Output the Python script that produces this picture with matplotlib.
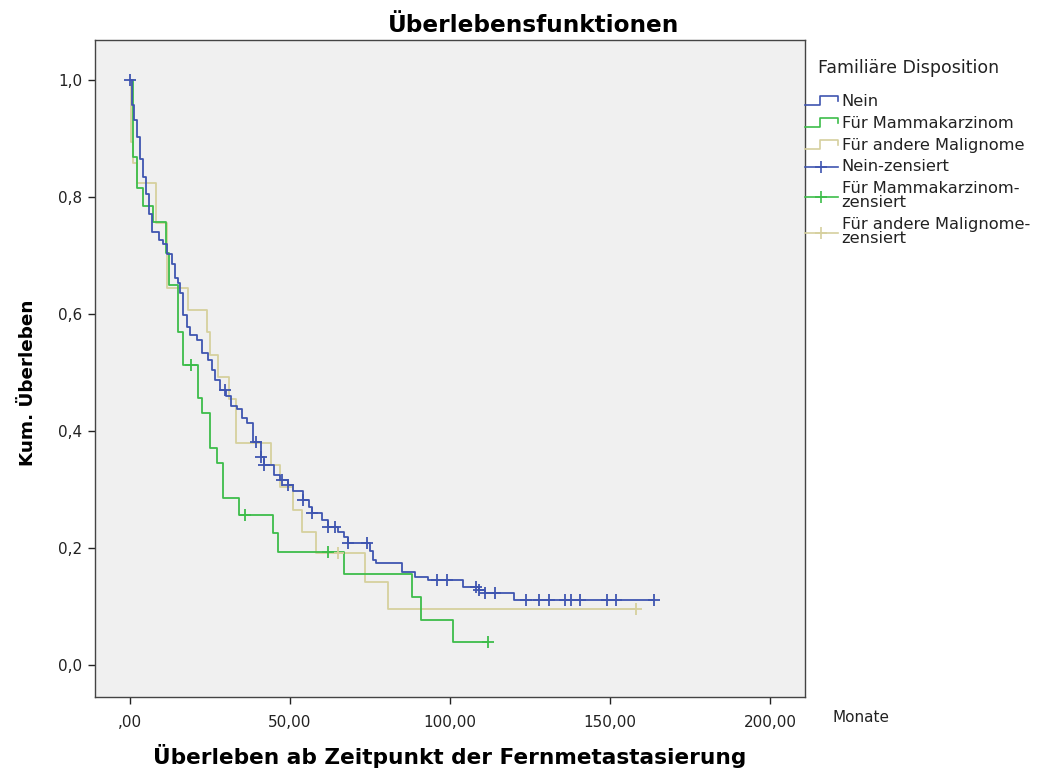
import numpy as np
import matplotlib
matplotlib.use("Agg")
import matplotlib.pyplot as plt
from matplotlib.lines import Line2D
from matplotlib.legend_handler import HandlerBase

plt.rcParams['font.family'] = ['DejaVu Sans']

# ---------------- data ----------------
blue_t = [0, 0.6, 1.25, 2.1, 3.1, 4.1, 5.0, 5.9, 6.9, 9.1, 10.3, 11.6, 13.1, 14.1, 15.0, 15.6,
          16.6, 17.8, 18.8, 20.9, 22.5, 24.4, 25.6, 26.6, 28.1, 30.0, 31.6, 33.4, 35.0, 36.6,
          38.4, 41, 42, 45, 47, 49.5, 51, 54, 56, 57, 60, 62, 65, 67, 68, 75, 76, 77, 85, 89,
          93, 104, 109, 111, 120]
blue_s = [1.0, 0.957, 0.932, 0.903, 0.865, 0.834, 0.805, 0.771, 0.740, 0.726, 0.720, 0.703,
          0.685, 0.662, 0.653, 0.636, 0.598, 0.578, 0.564, 0.556, 0.533, 0.521, 0.504, 0.487,
          0.470, 0.459, 0.442, 0.437, 0.422, 0.414, 0.381, 0.355, 0.342, 0.325, 0.316, 0.308,
          0.298, 0.282, 0.270, 0.260, 0.248, 0.236, 0.228, 0.219, 0.209, 0.195, 0.180, 0.174,
          0.159, 0.150, 0.145, 0.133, 0.128, 0.123, 0.111]
blue_cens = [0, 29.7, 39.5, 41, 42, 47.5, 49.5, 54, 57, 62, 64, 68, 74, 96, 99, 108, 109,
             111, 114, 123.8, 127.8, 130.9, 135.9, 137.8, 140.6, 149, 151.9, 163.8]

green_t = [0, 0.9, 2.2, 4.1, 7.2, 11.3, 12.2, 15.0, 16.6, 21.3, 22.5, 25.0, 27.2, 29.1, 34.1,
           44.7, 46.3, 66.9, 88.1, 91.0, 101.0]
green_s = [1.0, 0.868, 0.815, 0.785, 0.757, 0.704, 0.650, 0.569, 0.513, 0.456, 0.431, 0.371,
           0.345, 0.285, 0.256, 0.226, 0.193, 0.155, 0.116, 0.077, 0.039]
green_cens = [19, 36, 62, 112]

yellow_t = [0, 0.2, 1.0, 2.2, 8.1, 11.5, 18.1, 24.1, 25.0, 27.5, 31.0, 33.1, 44.1, 46.9, 50.9,
            53.8, 58.1, 73.4, 80.6]
yellow_s = [1.0, 0.894, 0.858, 0.824, 0.756, 0.644, 0.607, 0.569, 0.530, 0.492, 0.455, 0.379,
            0.342, 0.304, 0.265, 0.227, 0.191, 0.142, 0.096]
yellow_cens = [65, 158]

labels = ["Nein", "Für Mammakarzinom", "Für andere Malignome"]
cens_labels = ["Nein-zensiert", "Für Mammakarzinom-\nzensiert", "Für andere Malignome-\nzensiert"]
x_ticks = [0, 50, 100, 150, 200]
x_ticklabels = [",00", "50,00", "100,00", "150,00", "200,00"]
y_ticks = [0.0, 0.2, 0.4, 0.6, 0.8, 1.0]
y_ticklabels = ["0,0", "0,2", "0,4", "0,6", "0,8", "1,0"]

colors = ["#3f55b0", "#3dbd4a", "#d6d09e"]

# ---------------- figure ----------------
W, H = 1038, 769
fig = plt.figure(figsize=(W/100, H/100), dpi=100)
fig.patch.set_facecolor("white")
ax = fig.add_axes([95/W, 1-697/H, (805-95)/W, (697-40)/H])
ax.set_facecolor("#f0f0f0")

series = [(blue_t, blue_s, blue_cens), (green_t, green_s, green_cens), (yellow_t, yellow_s, yellow_cens)]
for i in [2, 1, 0]:
    t, s, c = series[i]
    t = np.asarray(t, float); s = np.asarray(s, float); c = np.asarray(c, float)
    tend = max(t[-1], c.max())
    tt = np.append(t, tend); ss = np.append(s, s[-1])
    ax.step(tt, ss, where="post", color=colors[i], lw=1.3, zorder=3 + (2 - i))
    idx = np.searchsorted(t, c, side="right") - 1
    ax.plot(c, s[idx], linestyle="none", marker="+", markersize=8, mew=1.3,
            color=colors[i], zorder=6 + (2 - i))

ax.set_xlim(-10.9, 210.9)
ax.set_ylim(-0.0547, 1.068)
ax.set_xticks(x_ticks)
ax.set_xticklabels(x_ticklabels)
ax.set_yticks(y_ticks)
ax.set_yticklabels(y_ticklabels)
ax.tick_params(axis="both", direction="out", length=5, width=1, colors="#222222",
               labelsize=11, labelcolor="#222222", pad=4)
ax.tick_params(axis="x", pad=8)
for side in ["left", "bottom", "top", "right"]:
    ax.spines[side].set_color("#444444")
    ax.spines[side].set_linewidth(1.0)

fig.text(533/W, 1-25/H, "Überlebensfunktionen", fontsize=16.7, fontweight="bold",
         ha="center", va="center")
fig.text(28/W, 1-383/H, "Kum. Überleben", fontsize=13.2, fontweight="bold",
         ha="center", va="center", rotation=90)
fig.text(450/W, 1-756/H, "Überleben ab Zeitpunkt der Fernmetastasierung", fontsize=15.6,
         fontweight="bold", ha="center", va="center")
fig.text(832/W, 1-718/H, "Monate", fontsize=11, va="center", ha="left", color="#222222")

# ---------------- legend ----------------
class StepHandler(HandlerBase):
    def create_artists(self, legend, orig_handle, xdescent, ydescent, width, height, fontsize, trans):
        x0 = -xdescent; y0 = -ydescent
        xs = [x0, x0 + 0.45*width, x0 + 0.45*width, x0 + width, x0 + width]
        ys = [y0 + 0.1*height, y0 + 0.1*height, y0 + 0.85*height, y0 + 0.85*height, y0 + 0.4*height]
        return [Line2D(xs, ys, color=orig_handle.get_color(), lw=1.2, transform=trans)]

class CensHandler(HandlerBase):
    def create_artists(self, legend, orig_handle, xdescent, ydescent, width, height, fontsize, trans):
        x0 = -xdescent; y0 = -ydescent
        ln = Line2D([x0, x0 + width], [y0 + 0.4*height]*2, color=orig_handle.get_color(),
                    lw=1.2, transform=trans)
        mk = Line2D([x0 + 0.5*width], [y0 + 0.4*height], marker="+", markersize=8, mew=1.2,
                    color=orig_handle.get_color(), linestyle="none", transform=trans)
        return [ln, mk]

step_h = [Line2D([], [], color=c) for c in colors]
cens_h = [Line2D([], [], color=c, marker="+") for c in colors]
handler_map = {}
for h in step_h:
    handler_map[h] = StepHandler()
for h in cens_h:
    handler_map[h] = CensHandler()

fig.text(818/W, 1-68/H, "Familiäre Disposition", fontsize=12.5, va="center", ha="left",
         color="#222222")
leg = fig.legend(step_h + cens_h, labels + cens_labels, handler_map=handler_map,
                 loc="upper left", bbox_to_anchor=(805/W, 1-94/H), frameon=False,
                 fontsize=11.7, handlelength=2.0, handletextpad=0.25, labelspacing=0.42,
                 borderpad=0, borderaxespad=0)
for txt in leg.get_texts():
    txt.set_linespacing(0.9)
    txt.set_color("#222222")

fig.savefig("out.png", dpi=100, facecolor="white")
